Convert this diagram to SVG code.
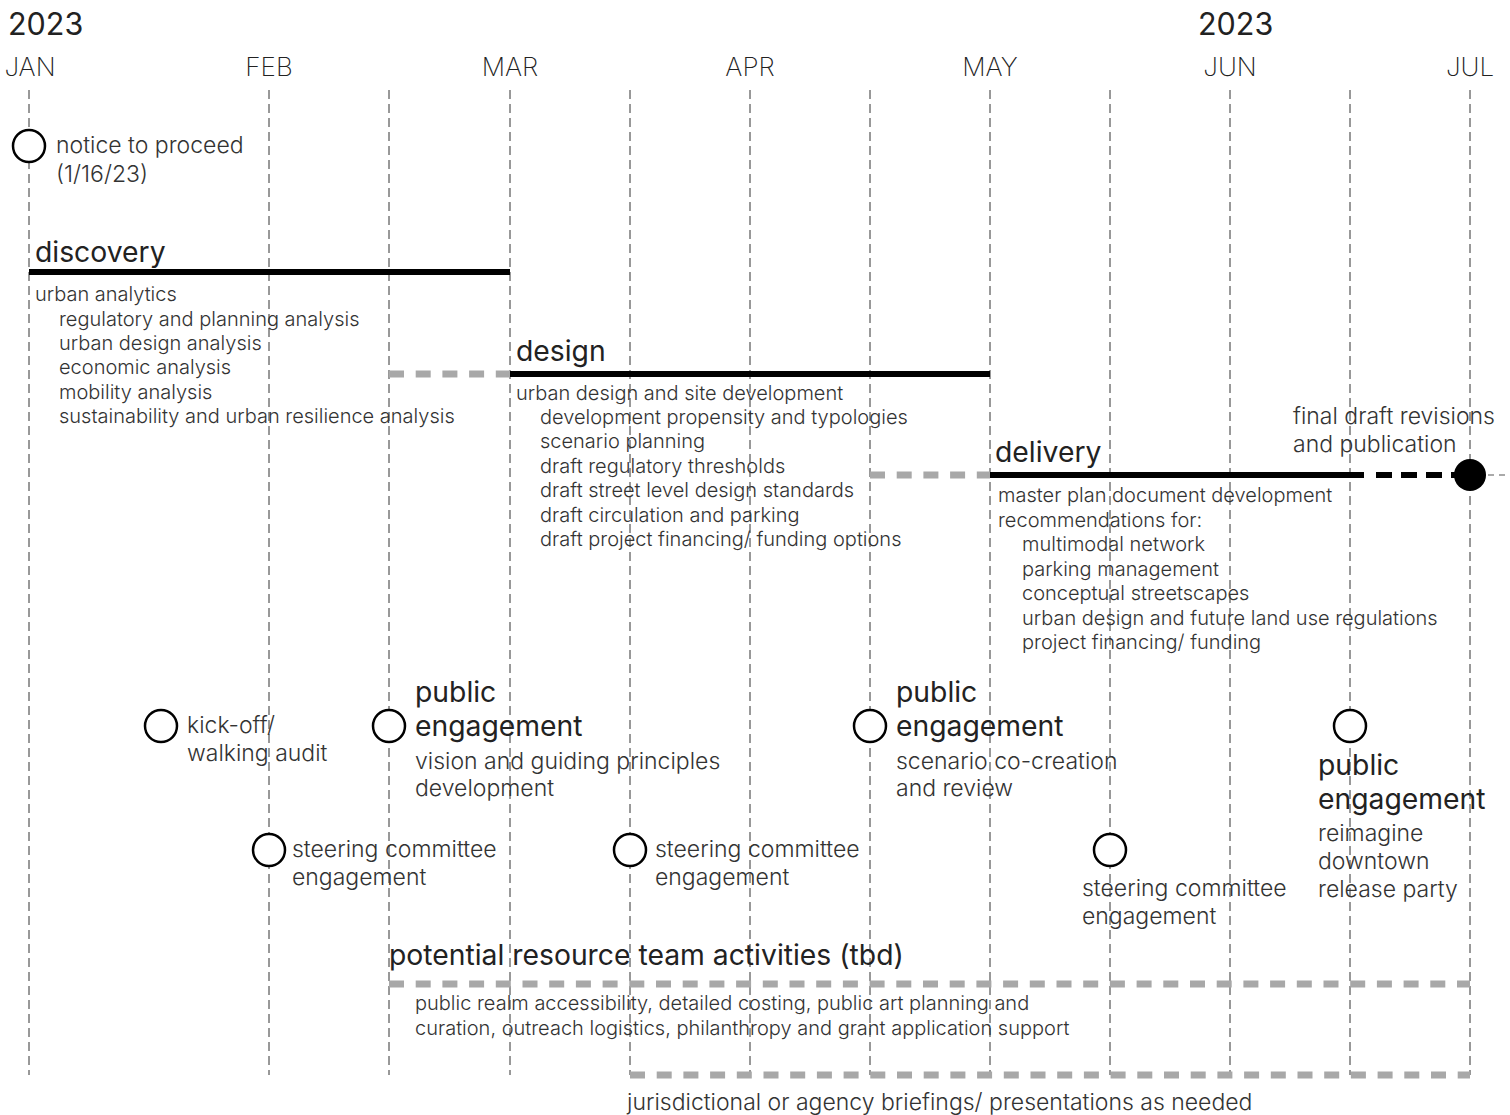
<svg xmlns="http://www.w3.org/2000/svg" width="1510" height="1115" viewBox="0 0 1510 1115">
<style>
.grid{stroke:#333;stroke-width:1;stroke-dasharray:9 5;fill:none}
.bar{stroke:#000;stroke-width:6;fill:none}
.gdash{stroke:#a8a8a8;stroke-width:7;stroke-dasharray:15 11.7;fill:none}
.ms{fill:#fff;stroke:#000;stroke-width:2.5}
text{font-family:Inter,"Liberation Sans",sans-serif;fill:#222}
.yr{font-size:30.5px;font-weight:400}
.mo{font-size:26px;font-weight:200;text-anchor:middle}
.h{font-size:28.3px;font-weight:400}
.b{font-size:20px;font-weight:300;fill:#333}
.m{font-size:23px;font-weight:300;fill:#333}
</style>
<rect width="1510" height="1115" fill="#fff"/>
<g id="grid">
<line class="grid" x1="29" y1="90" x2="29" y2="1075"/>
<line class="grid" x1="269" y1="90" x2="269" y2="1075"/>
<line class="grid" x1="389" y1="90" x2="389" y2="1075"/>
<line class="grid" x1="510" y1="90" x2="510" y2="1075"/>
<line class="grid" x1="630" y1="90" x2="630" y2="1075"/>
<line class="grid" x1="750" y1="90" x2="750" y2="1075"/>
<line class="grid" x1="870" y1="90" x2="870" y2="1075"/>
<line class="grid" x1="990" y1="90" x2="990" y2="1075"/>
<line class="grid" x1="1110" y1="90" x2="1110" y2="1075"/>
<line class="grid" x1="1230" y1="90" x2="1230" y2="1075"/>
<line class="grid" x1="1350" y1="90" x2="1350" y2="1075"/>
<line class="grid" x1="1470" y1="90" x2="1470" y2="1075"/>
</g>
<g id="header">
<text class="yr" x="8" y="35">2023</text>
<text class="yr" x="1198" y="35">2023</text>
<text class="mo" x="30" y="76">JAN</text>
<text class="mo" x="269" y="76">FEB</text>
<text class="mo" x="510" y="76">MAR</text>
<text class="mo" x="750" y="76">APR</text>
<text class="mo" x="990" y="76">MAY</text>
<text class="mo" x="1230" y="76">JUN</text>
<text class="mo" x="1470" y="76">JUL</text>
</g>
<g id="connectors">
<line class="bar" x1="29" y1="272" x2="510" y2="272"/>
<line class="gdash" x1="389" y1="374" x2="510" y2="374"/>
<line class="bar" x1="510" y1="374" x2="990" y2="374"/>
<line class="gdash" x1="870" y1="475" x2="990" y2="475"/>
<line class="bar" x1="990" y1="475" x2="1364" y2="475"/>
<line class="bar" x1="1376" y1="475" x2="1455" y2="475" stroke-dasharray="16 9"/>
<line x1="1488" y1="475" x2="1510" y2="475" stroke="#aaa" stroke-width="2" stroke-dasharray="6 5"/>
<line class="gdash" x1="389" y1="984" x2="1470" y2="984"/>
<line class="gdash" x1="630" y1="1075" x2="1470" y2="1075"/>
</g>
<g id="notice">
<circle class="ms" cx="29" cy="146" r="16"/>
<text class="m" x="56" y="153">notice to proceed</text>
<text class="m" x="56" y="182">(1/16/23)</text>
</g>
<g id="discovery">
<text class="h" x="35" y="262">discovery</text>
<text class="b" x="35" y="301">urban analytics</text>
<text class="b" x="59" y="326">regulatory and planning analysis</text>
<text class="b" x="59" y="350">urban design analysis</text>
<text class="b" x="59" y="374">economic analysis</text>
<text class="b" x="59" y="399">mobility analysis</text>
<text class="b" x="59" y="423">sustainability and urban resilience analysis</text>
</g>
<g id="design">
<text class="h" x="516" y="361">design</text>
<text class="b" x="516" y="400">urban design and site development</text>
<text class="b" x="540" y="424">development propensity and typologies</text>
<text class="b" x="540" y="448">scenario planning</text>
<text class="b" x="540" y="473">draft regulatory thresholds</text>
<text class="b" x="540" y="497">draft street level design standards</text>
<text class="b" x="540" y="522">draft circulation and parking</text>
<text class="b" x="540" y="546">draft project financing/ funding options</text>
</g>
<g id="delivery">
<text class="h" x="995" y="462">delivery</text>
<text class="b" x="998" y="502">master plan document development</text>
<text class="b" x="998" y="527">recommendations for:</text>
<text class="b" x="1022" y="551">multimodal network</text>
<text class="b" x="1022" y="576">parking management</text>
<text class="b" x="1022" y="600">conceptual streetscapes</text>
<text class="b" x="1022" y="625">urban design and future land use regulations</text>
<text class="b" x="1022" y="649">project financing/ funding</text>
</g>
<g id="final">
<circle cx="1470" cy="475" r="16" fill="#000"/>
<text class="m" x="1293" y="424">final draft revisions</text>
<text class="m" x="1293" y="452">and publication</text>
</g>
<g id="kickoff">
<circle class="ms" cx="161" cy="726" r="16"/>
<text class="m" x="187" y="733">kick-off/</text>
<text class="m" x="187" y="761">walking audit</text>
</g>
<g id="pe1">
<circle class="ms" cx="389" cy="726" r="16"/>
<text class="h" x="415" y="702">public</text>
<text class="h" x="415" y="736">engagement</text>
<text class="m" x="415" y="769">vision and guiding principles</text>
<text class="m" x="415" y="796">development</text>
</g>
<g id="pe2">
<circle class="ms" cx="870" cy="726" r="16"/>
<text class="h" x="896" y="702">public</text>
<text class="h" x="896" y="736">engagement</text>
<text class="m" x="896" y="769">scenario co-creation</text>
<text class="m" x="896" y="796">and review</text>
</g>
<g id="pe3">
<circle class="ms" cx="1350" cy="726" r="16"/>
<text class="h" x="1318" y="775">public</text>
<text class="h" x="1318" y="809">engagement</text>
<text class="m" x="1318" y="841">reimagine</text>
<text class="m" x="1318" y="869">downtown</text>
<text class="m" x="1318" y="897">release party</text>
</g>
<g id="sc1">
<circle class="ms" cx="269" cy="850" r="16"/>
<text class="m" x="292" y="857">steering committee</text>
<text class="m" x="292" y="885">engagement</text>
</g>
<g id="sc2">
<circle class="ms" cx="630" cy="850" r="16"/>
<text class="m" x="655" y="857">steering committee</text>
<text class="m" x="655" y="885">engagement</text>
</g>
<g id="sc3">
<circle class="ms" cx="1110" cy="850" r="16"/>
<text class="m" x="1082" y="896">steering committee</text>
<text class="m" x="1082" y="924">engagement</text>
</g>
<g id="resource">
<text class="h" x="389" y="965">potential resource team activities (tbd)</text>
<text class="b" x="415" y="1010">public realm accessibility, detailed costing, public art planning and</text>
<text class="b" x="415" y="1035">curation, outreach logistics, philanthropy and grant application support</text>
</g>
<g id="briefings">
<text class="m" x="627" y="1110">jurisdictional or agency briefings/ presentations as needed</text>
</g>
</svg>
